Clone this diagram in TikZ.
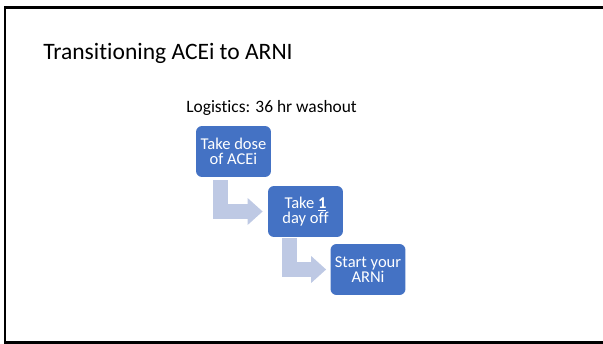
\documentclass[tikz,border=0pt]{standalone}
\usepackage{fontspec}
\setmainfont[Ligatures=NoCommon]{Carlito}
\usetikzlibrary{arrows.meta}
\definecolor{boxblue}{RGB}{68,114,196}
\definecolor{arrowblue}{RGB}{190,201,228}
\tikzset{
    stepbox/.style={fill=boxblue, draw=none, rounded corners=0.12cm, minimum width=1.5cm, minimum height=1.02cm, inner sep=1pt, align=center, text=white, font=\fontsize{9.4}{8.6}\selectfont},
    bentarrow/.style={draw=arrowblue, line width=0.3cm, line join=miter, -{Triangle[length=0.3cm, width=0.52cm]}}
}
\begin{document}
\begin{tikzpicture}[x=0.02cm, y=-0.02cm]
\useasboundingbox (0,0) rectangle (603,344);
\draw[line width=0.045cm] (603,7.5) -| (5,342.5) -- (603,342.5);
\node[anchor=base west, inner sep=0pt, font=\fontsize{13.4}{16}\selectfont] (title) at (43,60) {Transitioning ACEi to ARNI};
\node[anchor=base west, inner sep=0pt, font=\fontsize{9.9}{11}\selectfont] (logistics) at (186,113) {Logistics: 36 hr washout};
\node[stepbox] (dose) at (233.5,151.5) {Take dose\\of ACEi};
\node[stepbox] (off) at (305.5,211.5) {Take \textbf{\underline{1}}\\day off};
\node[stepbox] (arni) at (368,269.5) {Start your\\ARNi};
\draw[bentarrow] ([xshift=-0.26cm, yshift=-0.06cm]dose.south) |- ([xshift=-0.1cm]off.west);
\draw[bentarrow] ([xshift=-0.32cm, yshift=-0.02cm]off.south) |- ([xshift=-0.08cm]arni.west);
\end{tikzpicture}
\end{document}
